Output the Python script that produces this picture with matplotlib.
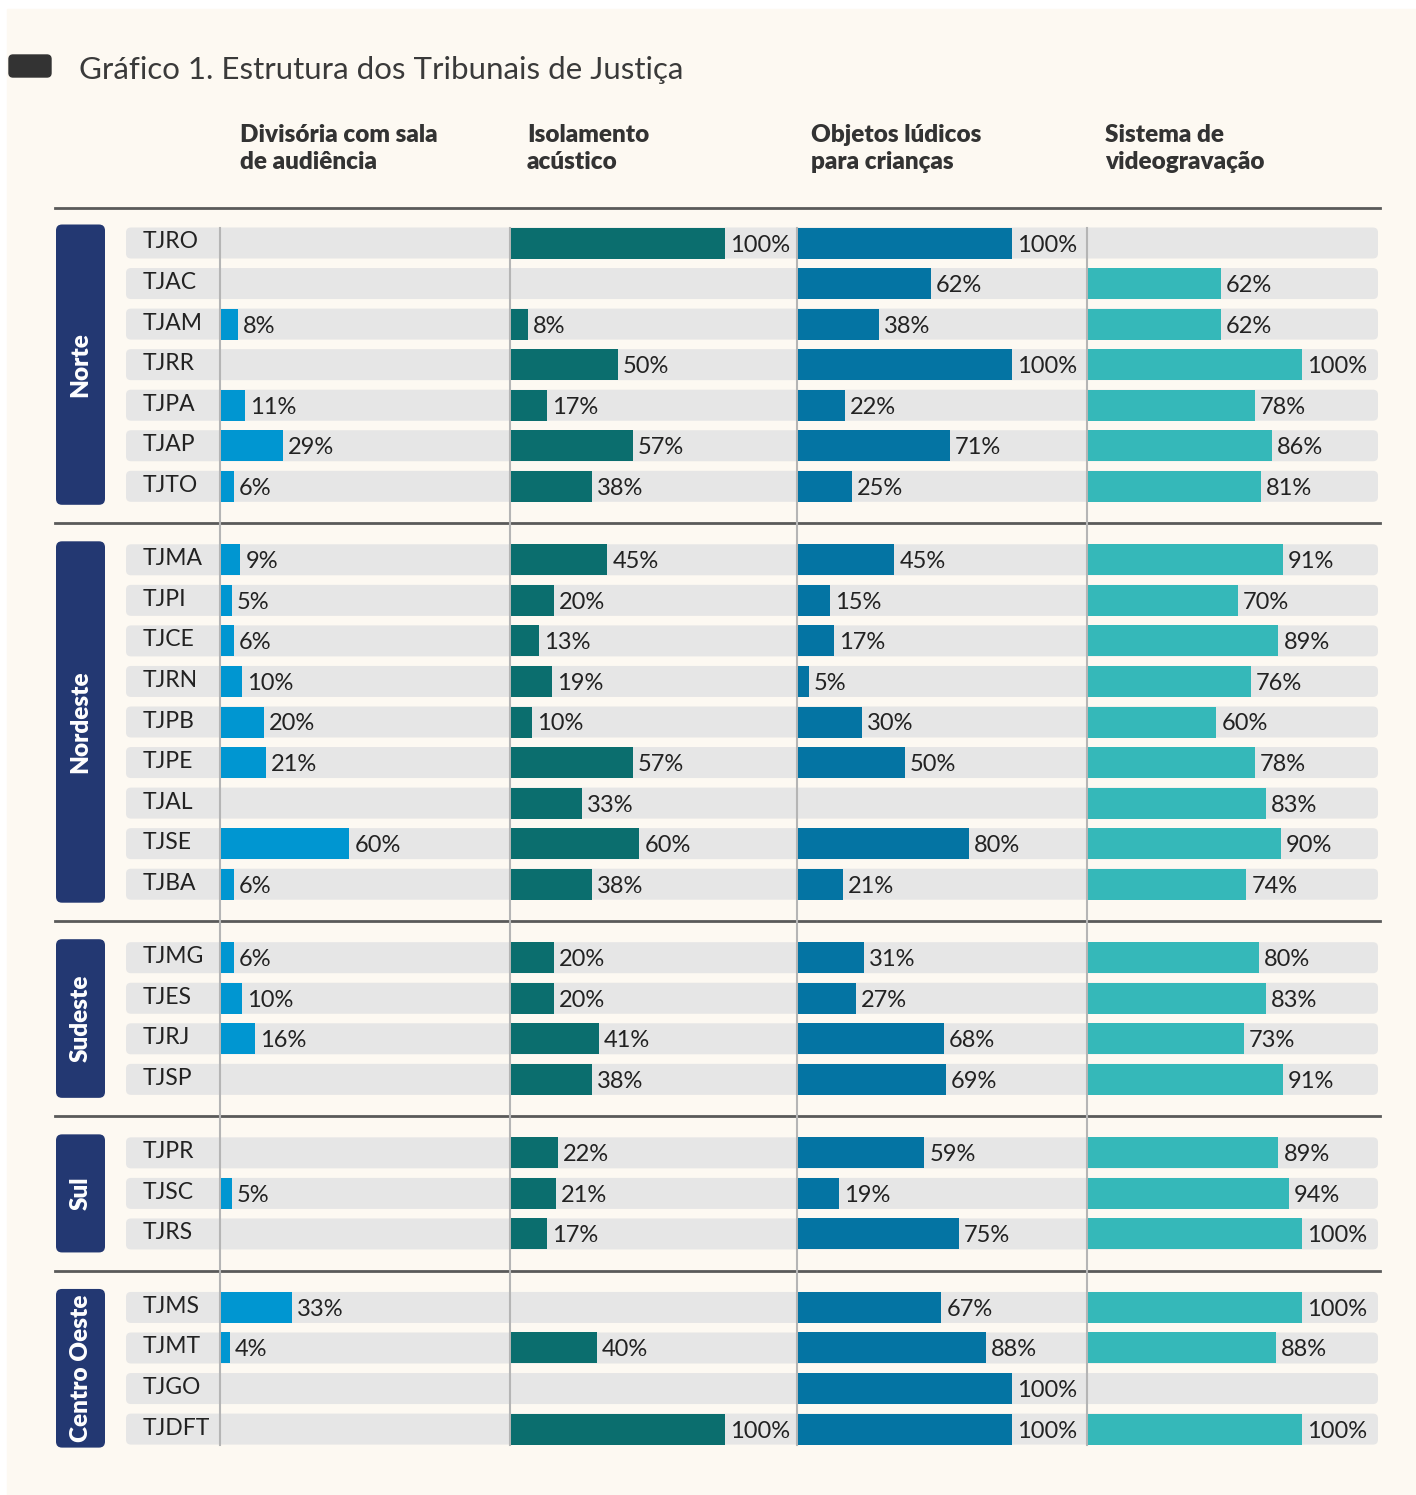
import numpy as np
import matplotlib
matplotlib.use('Agg')
import matplotlib.pyplot as plt
from matplotlib.patches import FancyBboxPatch, Rectangle

# data (None = no bar)
regions = ['Norte', 'Nordeste', 'Sudeste', 'Sul', 'Centro Oeste']
courts = [
    ['TJRO', 'TJAC', 'TJAM', 'TJRR', 'TJPA', 'TJAP', 'TJTO'],
    ['TJMA', 'TJPI', 'TJCE', 'TJRN', 'TJPB', 'TJPE', 'TJAL', 'TJSE', 'TJBA'],
    ['TJMG', 'TJES', 'TJRJ', 'TJSP'],
    ['TJPR', 'TJSC', 'TJRS'],
    ['TJMS', 'TJMT', 'TJGO', 'TJDFT'],
]
columns = [('Divisória com sala', 'de audiência'), ('Isolamento', 'acústico'),
           ('Objetos lúdicos', 'para crianças'), ('Sistema de', 'videogravação')]

divisoria = [None, None, 8, None, 11, 29, 6,
             9, 5, 6, 10, 20, 21, None, 60, 6,
             6, 10, 16, None,
             None, 5, None,
             33, 4, None, None]
isolamento = [100, None, 8, 50, 17, 57, 38,
              45, 20, 13, 19, 10, 57, 33, 60, 38,
              20, 20, 41, 38,
              22, 21, 17,
              None, 40, None, 100]
ludicos = [100, 62, 38, 100, 22, 71, 25,
           45, 15, 17, 5, 30, 50, None, 80, 21,
           31, 27, 68, 69,
           59, 19, 75,
           67, 88, 100, 100]
video = [None, 62, 62, 100, 78, 86, 81,
         91, 70, 89, 76, 60, 78, 83, 90, 74,
         80, 83, 73, 91,
         89, 94, 100,
         100, 88, None, 100]
series = [divisoria, isolamento, ludicos, video]
colors = ['#0096D1', '#0B6E6E', '#0474A3', '#35B8B9']

W, H = 1416, 1495
fig = plt.figure(figsize=(W / 100, H / 100), dpi=100, facecolor='white')
ax = fig.add_axes([0, 0, 1, 1])
ax.set_xlim(0, W)
ax.set_ylim(H, 0)
ax.axis('off')

ax.add_patch(Rectangle((7, 9), W, H, color='#FDF9F2', zorder=0))

# title
ax.add_patch(FancyBboxPatch((9, 55), 42, 22, boxstyle='round,pad=0,rounding_size=4',
                            color='#333333', zorder=2))
ax.text(79, 70, 'Gráfico 1. Estrutura dos Tribunais de Justiça', fontsize=22.5,
        family='Lato', color='#3a3a3a', va='center', ha='left')

col_x = [220, 510, 797, 1087]
head_x = [240, 527, 811, 1105]
for hx, (l1, l2) in zip(head_x, columns):
    for yy, line in zip([135, 162], [l1, l2]):
        ax.text(hx, yy, line, fontsize=17.5, family='Lato', weight='heavy',
                color='#333333', va='center', ha='left')

# row positions
pitch, gap = 40.55, 73.5
ys, seps, group_rows = [], [208], []
y = 243
for g, names in enumerate(courts):
    rows = [y + i * pitch for i in range(len(names))]
    ys += rows
    group_rows.append(rows)
    y = rows[-1] + gap
    if g < len(courts) - 1:
        seps.append(rows[-1] + gap / 2)
ys = np.array(ys)
all_names = [n for names in courts for n in names]

bh = 31
for s in seps:
    ax.plot([55, 1380], [s, s], color='#5a5a5a', lw=2, zorder=1)

# row backgrounds and labels
for yy, nm in zip(ys, all_names):
    ax.add_patch(FancyBboxPatch((126, yy - bh / 2), 1252, bh,
                                boxstyle='round,pad=0,rounding_size=5',
                                color='#E6E6E6', lw=0, zorder=1))
    ax.text(143, yy - 1, nm, fontsize=16.5, family='Lato', weight='normal',
            color='#222222', va='center', ha='left', zorder=3)

# vertical column lines
for cx in col_x:
    ax.plot([cx, cx], [ys[0] - bh / 2, ys[-1] + bh / 2], color='#b5b5b5',
            lw=1.5, zorder=2)

# region boxes
for reg, rows in zip(regions, group_rows):
    top, bot = rows[0] - bh / 2 - 3, rows[-1] + bh / 2 + 3
    ax.add_patch(FancyBboxPatch((56, top), 49, bot - top,
                                boxstyle='round,pad=0,rounding_size=6',
                                color='#233872', lw=0, zorder=2))
    ax.text(80.5, (top + bot) / 2, reg, rotation=90, fontsize=17.5, family='Lato',
            weight='heavy', color='white', ha='center', va='center', zorder=3)

# bars
scale = 2.14
for cx, vals, c in zip(col_x, series, colors):
    v = np.array([np.nan if x is None else x for x in vals], dtype=float)
    ok = ~np.isnan(v)
    ax.barh(ys[ok], v[ok] * scale, left=cx + 1, height=bh, color=c, zorder=3)
    for yy, val in zip(ys[ok], v[ok]):
        ax.text(cx + 1 + val * scale + 5, yy + 2, f'{int(val)}%', fontsize=17,
                family='Lato', weight='normal', color='#222222', va='center',
                ha='left', zorder=4)

fig.savefig('out.png', dpi=100, facecolor=fig.get_facecolor())
